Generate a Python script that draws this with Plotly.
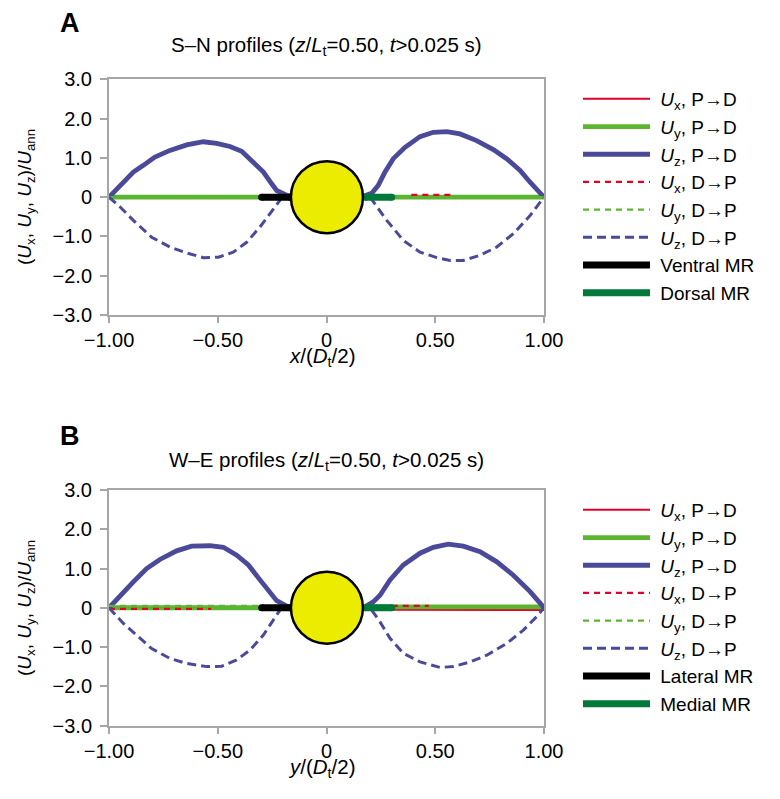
import plotly.graph_objects as go

W, H = 780, 799
FONT = "Liberation Sans, Arial, Helvetica, sans-serif"

# ---------------- data: panel A (S-N, x/(Dt/2)) ----------------
A_uz_pd_x = [-1.0, -0.949, -0.888, -0.842, -0.789, -0.72, -0.643, -0.566, -0.505, -0.444,
             -0.39, -0.337, -0.29, -0.252, -0.229, -0.191, -0.165, None,
             0.169, 0.208, 0.238, 0.269, 0.307, 0.361, 0.43, 0.491, 0.553, 0.614,
             0.69, 0.767, 0.828, 0.89, 0.936, 0.974, 1.0]
A_uz_pd = [0.0, 0.30, 0.64, 0.81, 1.02, 1.19, 1.33, 1.41, 1.37, 1.29,
           1.17, 0.89, 0.64, 0.34, 0.17, 0.07, 0.02, None,
           0.02, 0.10, 0.30, 0.64, 0.98, 1.27, 1.54, 1.65, 1.67, 1.61,
           1.44, 1.21, 0.98, 0.68, 0.38, 0.17, 0.0]
A_uz_dp_x = [-1.0, -0.949, -0.888, -0.804, -0.72, -0.643, -0.566, -0.497, -0.429, -0.367,
             -0.306, -0.26, -0.229, -0.206, None,
             0.2, 0.231, 0.277, 0.353, 0.43, 0.507, 0.568, 0.629, 0.706, 0.783,
             0.859, 0.936, 0.989, 1.0]
A_uz_dp = [0.0, -0.25, -0.59, -1.02, -1.27, -1.42, -1.54, -1.53, -1.40, -1.15,
           -0.76, -0.42, -0.17, -0.02, None,
           0.0, -0.25, -0.59, -1.10, -1.40, -1.54, -1.61, -1.61, -1.48, -1.27,
           -0.93, -0.47, -0.08, 0.0]
A_flat_x = [-1.0, -0.165, None, 0.165, 1.0]
A_ux_pd = [0.02, 0.02, None, 0.02, 0.02]
A_uy_pd = [0.0, 0.0, None, 0.0, 0.0]
A_ux_dp_x = [0.39, 0.59]
A_ux_dp = [0.06, 0.06]
A_uy_dp = [0.0, 0.0, None, 0.0, 0.0]
A_mr1_x = [-0.298, -0.168]   # Ventral MR
A_mr1 = [0.0, 0.0]
A_mr2_x = [0.177, 0.30]      # Dorsal MR
A_mr2 = [0.0, 0.0]

# ---------------- data: panel B (W-E, y/(Dt/2)) ----------------
B_uz_pd_x = [-1.0, -0.949, -0.888, -0.827, -0.766, -0.689, -0.62, -0.536, -0.474, -0.413,
             -0.359, -0.306, -0.26, -0.229, -0.183, -0.165, None,
             0.169, 0.215, 0.246, 0.292, 0.353, 0.43, 0.491, 0.56, 0.629, 0.706,
             0.783, 0.859, 0.936, 1.0]
B_uz_pd = [0.0, 0.32, 0.66, 1.00, 1.23, 1.45, 1.57, 1.58, 1.54, 1.34,
           1.09, 0.71, 0.37, 0.18, 0.04, 0.0, None,
           0.0, 0.15, 0.32, 0.71, 1.09, 1.39, 1.54, 1.62, 1.57, 1.43,
           1.17, 0.83, 0.41, 0.0]
B_uz_dp_x = [-1.0, -0.934, -0.873, -0.804, -0.72, -0.643, -0.551, -0.482, -0.413, -0.352,
             -0.291, -0.252, -0.214, None,
             0.208, 0.246, 0.292, 0.353, 0.43, 0.522, 0.583, 0.66, 0.737, 0.828,
             0.905, 0.966, 1.0]
B_uz_dp = [0.0, -0.40, -0.70, -1.04, -1.29, -1.42, -1.50, -1.49, -1.33, -1.08,
           -0.70, -0.36, -0.06, None,
           -0.06, -0.36, -0.78, -1.16, -1.38, -1.52, -1.50, -1.38, -1.21, -0.91,
           -0.57, -0.23, 0.0]
B_ux_pd_x = [-1.0, -0.165, None, 0.165, 0.30, 1.0]
B_ux_pd = [0.0, 0.0, None, 0.0, -0.05, -0.06]
B_uy_pd_x = [-1.0, -0.165, None, 0.165, 1.0]
B_uy_pd = [0.0, 0.0, None, 0.02, 0.02]
B_ux_dp_x = [-1.0, -0.53, None, 0.30, 0.47]
B_ux_dp = [-0.03, -0.03, None, 0.05, 0.05]
B_uy_dp_x = [-1.0, -0.30]
B_uy_dp = [0.05, 0.05]
B_mr1_x = [-0.298, -0.168]   # Lateral MR
B_mr1 = [0.0, 0.0]
B_mr2_x = [0.177, 0.30]      # Medial MR
B_mr2 = [0.0, 0.0]

# rod cross-section (circle) in data units
circle_cx, circle_rx, circle_ry = 0.002, 0.1655, 0.916

x_ticks = [-1.0, -0.5, 0.0, 0.5, 1.0]
x_ticktext = ["\u22121.00", "\u22120.50", "0", "0.50", "1.00"]
y_ticks = [-3, -2, -1, 0, 1, 2, 3]
y_ticktext = ["\u22123.0", "\u22122.0", "\u22121.0", "0", "1.0", "2.0", "3.0"]

RED = "#E4002B"
LGREEN = "#5CB531"
BLUE = "#4A4A98"
DGREEN = "#00793A"
GRAY = "#A6A6A6"
YELLOW = "#ECEC00"

TICK_SIZE = 20
LEG_SIZE = 19
TITLE_SIZE = 20.5
YTITLE_SIZE = 19

fig = go.Figure()


def add_panel(xa, ya, leg, data, mr_names):
    (ux_pd_x, ux_pd, uy_pd_x, uy_pd, uz_pd_x, uz_pd,
     ux_dp_x, ux_dp, uy_dp_x, uy_dp, uz_dp_x, uz_dp,
     mr1_x, mr1, mr2_x, mr2) = data
    pad = "&nbsp;"
    specs = [
        (ux_pd_x, ux_pd, "<i>U</i><sub>x</sub>, P\u2192D", RED, 2, "solid"),
        (uy_pd_x, uy_pd, "<i>U</i><sub>y</sub>, P\u2192D", LGREEN, 4.8, "solid"),
        (uz_pd_x, uz_pd, "<i>U</i><sub>z</sub>, P\u2192D", BLUE, 4.8, "solid"),
        (ux_dp_x, ux_dp, "<i>U</i><sub>x</sub>, D\u2192P", RED, 2.2, "6px,5px"),
        (uy_dp_x, uy_dp, "<i>U</i><sub>y</sub>, D\u2192P", LGREEN, 2.2, "6px,5px"),
        (uz_dp_x, uz_dp, "<i>U</i><sub>z</sub>, D\u2192P", BLUE, 3, "9px,5px"),
        (mr1_x, mr1, mr_names[0], "#000000", 7, "solid"),
        (mr2_x, mr2, mr_names[1], DGREEN, 7, "solid"),
    ]
    for i, (xx, yy, name, col, w, dash) in enumerate(specs):
        fig.add_trace(go.Scatter(
            x=xx, y=yy, mode="lines", name=pad + name, xaxis=xa, yaxis=ya,
            line=dict(color=col, width=w, dash=dash), legend=leg,
            legendgroup=leg + str(i), hoverinfo="skip"))
        if i >= 6:  # round caps for the MR bars
            fig.add_trace(go.Scatter(
                x=xx, y=yy, mode="markers", xaxis=xa, yaxis=ya, showlegend=False,
                marker=dict(color=col, size=w, line=dict(width=0)),
                legend=leg, hoverinfo="skip"))


add_panel("x", "y", "legend",
          (A_flat_x, A_ux_pd, A_flat_x, A_uy_pd, A_uz_pd_x, A_uz_pd,
           A_ux_dp_x, A_ux_dp, A_flat_x, A_uy_dp, A_uz_dp_x, A_uz_dp,
           A_mr1_x, A_mr1, A_mr2_x, A_mr2),
          ("Ventral MR", "Dorsal MR"))
add_panel("x2", "y2", "legend2",
          (B_ux_pd_x, B_ux_pd, B_uy_pd_x, B_uy_pd, B_uz_pd_x, B_uz_pd,
           B_ux_dp_x, B_ux_dp, B_uy_dp_x, B_uy_dp, B_uz_dp_x, B_uz_dp,
           B_mr1_x, B_mr1, B_mr2_x, B_mr2),
          ("Lateral MR", "Medial MR"))

# circles
for xr, yr in (("x", "y"), ("x2", "y2")):
    fig.add_shape(type="circle", xref=xr, yref=yr,
                  x0=circle_cx - circle_rx, x1=circle_cx + circle_rx,
                  y0=-circle_ry, y1=circle_ry,
                  fillcolor=YELLOW, line=dict(color="#000000", width=2.5),
                  layer="above")

OFF = 8  # page body margin in the browser


def px(x):
    return (x - OFF) / W


def py(y):
    return 1 - (y - OFF) / H


x_dom = [px(109), px(544)]
axis_common = dict(showline=True, linecolor=GRAY, linewidth=2, mirror=True,
                   ticks="outside", tickcolor=GRAY, tickwidth=1.5,
                   showgrid=False, zeroline=False, automargin=False,
                   tickfont=dict(family=FONT, size=TICK_SIZE, color="#000"))

fig.update_layout(
    width=W, height=H, margin=dict(l=0, r=0, t=0, b=0, autoexpand=False),
    paper_bgcolor="white", plot_bgcolor="white",
    font=dict(family=FONT, size=TICK_SIZE, color="#000"),
    xaxis=dict(domain=x_dom, anchor="y", range=[-1, 1], tickvals=x_ticks,
               ticktext=x_ticktext, ticklen=6, ticklabelstandoff=0, **axis_common),
    yaxis=dict(domain=[py(315), py(79.3)], anchor="x", range=[-3, 3], ticklen=7,
               tickvals=y_ticks, ticktext=y_ticktext, ticklabelstandoff=4, **axis_common),
    xaxis2=dict(domain=x_dom, anchor="y2", range=[-1, 1], tickvals=x_ticks,
                ticktext=x_ticktext, ticklen=6, ticklabelstandoff=0, **axis_common),
    yaxis2=dict(domain=[py(725.5), py(490)], anchor="x2", range=[-3, 3], ticklen=7,
                tickvals=y_ticks, ticktext=y_ticktext, ticklabelstandoff=4, **axis_common),
    legend=dict(x=px(578), y=py(80), xanchor="left", yanchor="top",
                bgcolor="rgba(0,0,0,0)", itemwidth=67, tracegroupgap=0,
                font=dict(family=FONT, size=LEG_SIZE)),
    legend2=dict(x=px(578), y=py(491), xanchor="left", yanchor="top",
                 bgcolor="rgba(0,0,0,0)", itemwidth=67, tracegroupgap=0,
                 font=dict(family=FONT, size=LEG_SIZE)),
    showlegend=True,
)

ann = [
    ("<b>A</b>", 70, 23, 27, 0),
    ("S\u2013N profiles (<i>z</i>/<i>L</i><sub>t</sub>=0.50, <i>t</i>&gt;0.025 s)", 326, 46, TITLE_SIZE, 0),
    ("<i>x</i>/(<i>D</i><sub>t</sub>/2)", 322, 357, TITLE_SIZE, 0),
    ("(<i>U</i><sub>x</sub>, <i>U</i><sub>y</sub>, <i>U</i><sub>z</sub>)/<i>U</i><sub>ann</sub>", 26, 197, YTITLE_SIZE, -90),
    ("<b>B</b>", 70, 436, 27, 0),
    ("W\u2013E profiles (<i>z</i>/<i>L</i><sub>t</sub>=0.50, <i>t</i>&gt;0.025 s)", 326, 461, TITLE_SIZE, 0),
    ("<i>y</i>/(<i>D</i><sub>t</sub>/2)", 322, 768, TITLE_SIZE, 0),
    ("(<i>U</i><sub>x</sub>, <i>U</i><sub>y</sub>, <i>U</i><sub>z</sub>)/<i>U</i><sub>ann</sub>", 26, 608, YTITLE_SIZE, -90),
]
for text, x, y, size, ang in ann:
    fig.add_annotation(text=text, x=px(x), y=py(y), xref="paper", yref="paper",
                       xanchor="center", yanchor="middle", showarrow=False,
                       textangle=ang, font=dict(family=FONT, size=size, color="#000"))

fig.write_html("out.html")
